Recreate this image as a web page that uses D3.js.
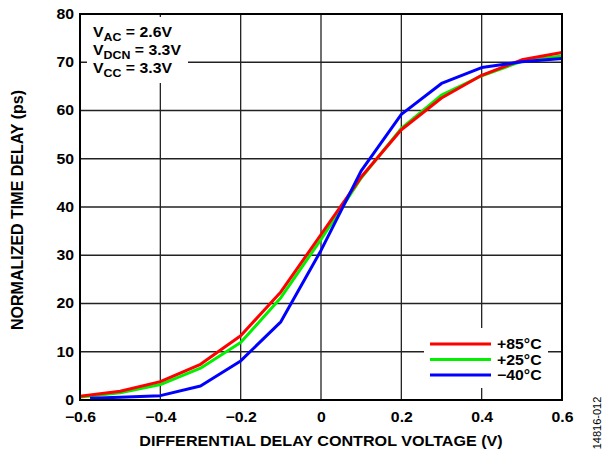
<!DOCTYPE html>
<html><head><meta charset="utf-8">
<script src="https://cdn.jsdelivr.net/npm/d3@7"></script>
<style>body{margin:0;background:#fff}svg{display:block}text{font-family:"Liberation Sans",Arial,sans-serif}</style>
</head><body>
<svg id="c" width="602" height="452"></svg>
<script>
const xTicks = [-0.6,-0.4,-0.2,0,0.2,0.4,0.6];
const xTickLabels = ["\u22120.6","\u22120.4","\u22120.2","0","0.2","0.4","0.6"];
const yTicks = [0,10,20,30,40,50,60,70,80];
const voltsRed = [-0.6,-0.5,-0.4,-0.3,-0.2,-0.1,0,0.1,0.2,0.3,0.4,0.5,0.6];
const red85 = [0.8,1.8,3.8,7.4,13.3,22.4,34.3,46.2,56,62.6,67.3,70.5,72];
const voltsGreen = [-0.6,-0.5,-0.4,-0.3,-0.2,-0.1,0,0.1,0.2,0.3,0.4,0.5,0.6];
const green25 = [0.6,1.5,3.2,6.6,11.9,21.2,33.3,46,56.3,63.2,67.2,70.2,71.3];
const voltsBlue = [-0.575,-0.5,-0.4,-0.3,-0.2,-0.1,0,0.1,0.2,0.3,0.4,0.5,0.6];
const blue40 = [0.35,0.55,0.9,2.9,8.1,16.2,31,47.5,59.2,65.6,68.9,70.1,70.8];
const seriesNames = ["+85\u00b0C","+25\u00b0C","\u221240\u00b0C"];
const seriesColors = ["#ff0000","#00f000","#0000ff"];
const annot = [["V","AC"," = 2.6V"],["V","DCN"," = 3.3V"],["V","CC"," = 3.3V"]];

const SX = 1.13; // horizontal stretch of horizontal texts
const svg = d3.select("#c");
const L=80,R=562,T=14,B=400;
const x = d3.scaleLinear().domain([-0.6,0.6]).range([L,R]);
const y = d3.scaleLinear().domain([0,80]).range([B,T]);

// grid
const g = svg.append("g");
g.selectAll(".vg").data(xTicks).join("line").attr("x1",d=>x(d)).attr("x2",d=>x(d)).attr("y1",T).attr("y2",B)
  .attr("stroke","#222").attr("stroke-width",1.3);
g.selectAll(".hg").data(yTicks).join("line").attr("x1",L).attr("x2",R).attr("y1",d=>y(d)).attr("y2",d=>y(d))
  .attr("stroke","#222").attr("stroke-width",1.3);

// axes labels via d3 axes
const xAxis = d3.axisBottom(x).tickValues(xTicks).tickFormat((d,i)=>xTickLabels[i]).tickSize(0).tickPadding(12);
const ax = svg.append("g").attr("transform",`translate(0,${B})`).call(xAxis);
ax.select(".domain").remove();
ax.selectAll("text").attr("font-size",14).attr("font-weight","bold").attr("fill","#000")
  .attr("font-family","Liberation Sans, Arial").attr("transform",`scale(${SX},1)`);
const yAxis = d3.axisLeft(y).tickValues(yTicks).tickSize(0).tickPadding(0);
const ay = svg.append("g").attr("transform",`translate(${L},0)`).call(yAxis);
ay.select(".domain").remove();
ay.selectAll("text").attr("font-size",14).attr("font-weight","bold").attr("fill","#000")
  .attr("font-family","Liberation Sans, Arial").attr("x",0).attr("transform",`translate(-6,0) scale(${SX},1)`);

// annotation box
svg.append("rect").attr("x",87).attr("y",17).attr("width",101).attr("height",66).attr("fill","#fff");
annot.forEach((a,i)=>{
  const t = svg.append("text").attr("transform",`translate(93,${37+i*18}) scale(${SX},1)`).attr("font-size",14).attr("font-weight","bold");
  t.append("tspan").text(a[0]);
  t.append("tspan").attr("dy",4).attr("font-size",11).text(a[1]);
  t.append("tspan").attr("dy",-4).text(a[2]);
});

// legend box
svg.append("rect").attr("x",424).attr("y",328).attr("width",124).attr("height",60).attr("fill","#fff");

// lines
const line = d3.line().x(d=>x(d[0])).y(d=>y(d[1]));
const data = [
  {v:voltsGreen,d:green25,c:seriesColors[1]},
  {v:voltsRed,d:red85,c:seriesColors[0]},
  {v:voltsBlue,d:blue40,c:seriesColors[2]}
];
data.forEach(s=>{
  svg.append("path").datum(s.v.map((v,i)=>[v,s.d[i]])).attr("d",line)
    .attr("fill","none").attr("stroke",s.c).attr("stroke-width",3).attr("stroke-linejoin","round");
});

// legend
seriesNames.forEach((n,i)=>{
  const yy = 344+i*15.5;
  svg.append("line").attr("x1",430).attr("x2",491).attr("y1",yy).attr("y2",yy).attr("stroke",seriesColors[i]).attr("stroke-width",3);
  svg.append("text").attr("transform",`translate(497,${yy+5}) scale(${SX},1)`).attr("font-size",14).attr("font-weight","bold").text(n);
});

// border
svg.append("rect").attr("x",L).attr("y",T).attr("width",R-L).attr("height",B-T).attr("fill","none").attr("stroke","#000").attr("stroke-width",2);

// titles
svg.append("text").attr("transform",`translate(${(L+R)/2},446) scale(${SX*1.02},1)`).attr("text-anchor","middle").attr("font-size",14).attr("font-weight","bold")
  .text("DIFFERENTIAL DELAY CONTROL VOLTAGE (V)");
svg.append("text").attr("transform",`translate(23,210) rotate(-90)`).attr("text-anchor","middle").attr("font-size",16).attr("font-weight","bold")
  .text("NORMALIZED TIME DELAY (ps)");
svg.append("text").attr("transform",`translate(601,423) rotate(-90)`).attr("text-anchor","middle").attr("font-size",11)
  .text("14816-012");
</script>
</body></html>
